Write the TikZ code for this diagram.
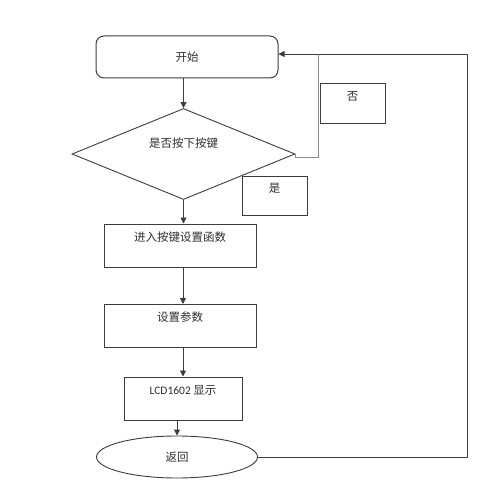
\documentclass[tikz,border=0pt]{standalone}
\usepackage{fontspec}
\newfontfamily\cjk{Noto Sans CJK SC}
\newfontfamily\lat{Carlito}
\usetikzlibrary{shapes.geometric,arrows.meta}
\definecolor{linegray}{HTML}{3C3C3C}
\definecolor{nogray}{HTML}{8C8C8C}
\definecolor{txtgray}{HTML}{2E2E2E}
\tikzset{
	every node/.style={font=\cjk\fontsize{11.5}{13}\selectfont, text=txtgray},
	stepbox/.style={draw=linegray, line width=1pt, rectangle, inner xsep=0pt, inner ysep=0pt, text height=17pt, text depth=26pt},
	tagbox/.style={draw=linegray, line width=1pt, rectangle, inner xsep=0pt, inner ysep=0pt, minimum width=65pt, text height=16pt, text depth=23pt},
	arr/.style={draw=linegray, line width=0.9pt, -{Triangle[length=6pt,width=6pt]}}
}
\begin{document}
\begin{tikzpicture}[x=1pt, y=-1pt]
		\useasboundingbox (0,0) rectangle (501,495);
		% main column
		\node[draw=linegray, line width=1pt, rounded corners=8pt, minimum width=182pt, minimum height=42pt] (start) at (187,57) {开始};
		\node[draw=linegray, line width=0.9pt, diamond, inner sep=0pt, minimum width=223pt, minimum height=90pt, text height=4pt, text depth=18pt] (ask) at (183.5,154) {是否按下按键};
		\node[stepbox, minimum width=152pt] (enter) at (180,245.5) {进入按键设置函数};
		\node[stepbox, minimum width=152pt] (param) at (180,326) {设置参数};
		\node[stepbox, minimum width=118pt] (lcd) at (183,398.5) {{\lat LCD1602} 显示};
		\node[draw=linegray, line width=0.9pt, ellipse, inner sep=0pt, minimum width=161pt, minimum height=42pt] (ret) at (177,457) {返回};
		% branch labels
		\node[tagbox] (no) at (352.5,103.5) {否};
		\node[tagbox] (yes) at (274.5,195.5) {是};
		% connectors
		\draw[arr] (ask.north |- start.south) -- (ask.north);
		\draw[arr] (ask.south) -- (ask.south |- enter.north);
		\draw[arr] (enter.south -| 183,0) -- (param.north -| 183,0);
		\draw[arr] (param.south -| 183,0) -- (lcd.north -| 183,0);
		\draw[arr] (ret.north |- lcd.south) -- (ret.north);
		\coordinate (loop) at (467,54);
		\coordinate (nojoin) at (318,54);
		\draw[arr] (ret.east) -| (loop) -- (start.east |- loop);
		\draw[nogray, line width=0.9pt] (ask.east) -- ++(0,3) -| (nojoin);
	\end{tikzpicture}
\end{document}
